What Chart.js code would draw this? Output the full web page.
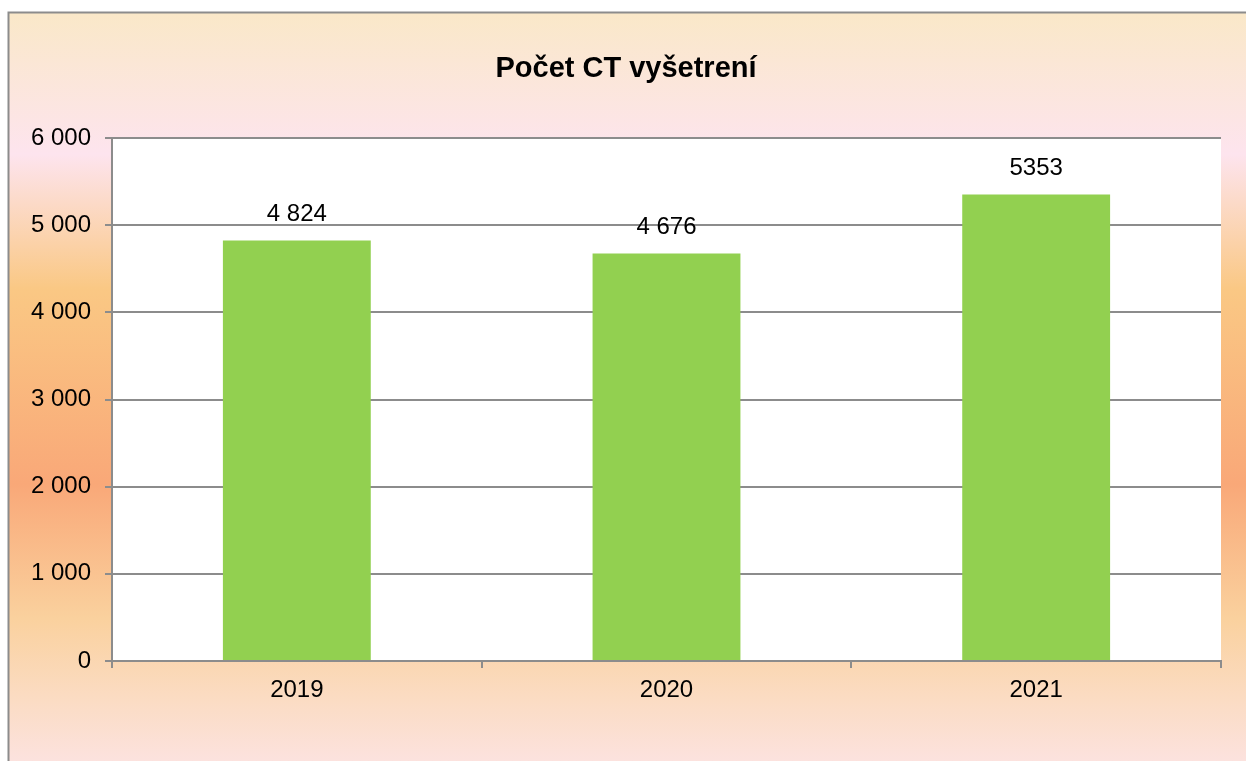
<!DOCTYPE html>
<html>
<head>
<meta charset="utf-8">
<script src="https://cdn.jsdelivr.net/npm/chart.js@4"></script>
<style>
html,body{margin:0;padding:0;background:#fff;}
#wrap{width:1246px;height:761px;position:relative;}
</style>
</head>
<body>
<div id="wrap"><canvas id="c" width="1246" height="761"></canvas></div>
<script>
const title = 'Počet CT vyšetrení';
const categories = ['2019', '2020', '2021'];
const values = [4824, 4676, 5353];
const valueLabels = ['4 824', '4 676', '5353'];
const yTicks = [0, 1000, 2000, 3000, 4000, 5000, 6000];

const fmt = v => String(v).replace(/\B(?=(\d{3})+(?!\d))/g, ' ');
const FONT = '"Liberation Sans", Arial, sans-serif';

const bgPlugin = {
  id: 'bg',
  beforeDraw(chart) {
    const ctx = chart.ctx;
    const W = chart.width, H = chart.height;
    ctx.save();
    ctx.fillStyle = '#fff';
    ctx.fillRect(0, 0, W, H);
    const g = ctx.createLinearGradient(0, 12, 0, 761);
    g.addColorStop(0.00, '#FAE8C8');
    g.addColorStop(0.19, '#FDE4EE');
    g.addColorStop(0.37, '#FAC884');
    g.addColorStop(0.63, '#F9A878');
    g.addColorStop(0.81, '#FAD19E');
    g.addColorStop(0.92, '#FBDCC4');
    g.addColorStop(1.00, '#FCE2DE');
    ctx.fillStyle = g;
    ctx.fillRect(8, 12, W - 8, H - 12);
    ctx.strokeStyle = '#8c8c8c';
    ctx.lineWidth = 2;
    ctx.beginPath();
    ctx.moveTo(8.5, H);
    ctx.lineTo(8.5, 12.5);
    ctx.lineTo(W, 12.5);
    ctx.stroke();
    const a = chart.chartArea;
    ctx.fillStyle = '#fff';
    ctx.fillRect(a.left, a.top, a.right - a.left, a.bottom - a.top);
    ctx.fillStyle = '#000';
    ctx.font = 'bold 29px ' + FONT;
    ctx.textAlign = 'center';
    ctx.textBaseline = 'middle';
    ctx.fillText(title, 626, 69);
    ctx.restore();
  },
  afterDatasetsDraw(chart) {
    const ctx = chart.ctx;
    const meta = chart.getDatasetMeta(0);
    ctx.save();
    ctx.fillStyle = '#000';
    ctx.font = '24px ' + FONT;
    ctx.textAlign = 'center';
    ctx.textBaseline = 'middle';
    meta.data.forEach((bar, i) => {
      ctx.fillText(valueLabels[i], bar.x, bar.y - 26);
    });
    ctx.restore();
  }
};

new Chart(document.getElementById('c'), {
  type: 'bar',
  data: {
    labels: categories,
    datasets: [{
      data: values,
      backgroundColor: '#92D050',
      borderWidth: 0,
      barPercentage: 0.4,
      categoryPercentage: 1.0
    }]
  },
  options: {
    responsive: false,
    animation: false,
    devicePixelRatio: 1,
    layout: { padding: { top: 138, right: 25, left: 0, bottom: 0 } },
    plugins: { legend: { display: false }, title: { display: false }, tooltip: { enabled: false } },
    scales: {
      x: {
        afterFit(s) { s.height = 100; },
        grid: { display: true, offset: true, drawOnChartArea: false, drawTicks: true, tickLength: 7, color: '#8c8c8c', lineWidth: 2 },
        border: { display: true, color: '#8c8c8c', width: 2 },
        ticks: { color: '#000', font: { family: FONT, size: 24 }, padding: 8 }
      },
      y: {
        min: 0, max: 6000,
        afterFit(s) { s.width = 112; },
        afterBuildTicks(s) { s.ticks = yTicks.map(v => ({ value: v })); },
        grid: { display: true, drawOnChartArea: true, drawTicks: true, tickLength: 7, color: '#8c8c8c', lineWidth: 2 },
        border: { display: true, color: '#8c8c8c', width: 2 },
        ticks: { color: '#000', font: { family: FONT, size: 24 }, padding: 14, callback: v => fmt(v) }
      }
    }
  },
  plugins: [bgPlugin]
});
</script>
</body>
</html>
